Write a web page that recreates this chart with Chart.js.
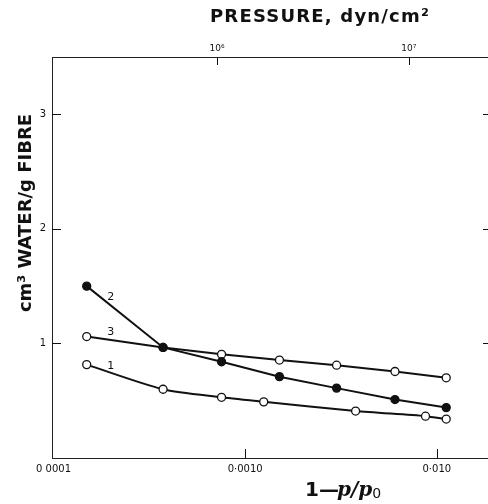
<!DOCTYPE html>
<html>
<head>
<meta charset="utf-8">
<script src="https://cdn.jsdelivr.net/npm/chart.js@4.4.1/dist/chart.umd.min.js"></script>
<style>
html,body{margin:0;padding:0;background:#fff;}
#wrap{width:488px;height:504px;}
</style>
</head>
<body>
<div id="wrap"><canvas id="c" width="488" height="504"></canvas></div>
<script>
// ---- data ----
const series1X = [0.000149, 0.000373, 0.000753, 0.00125, 0.00377, 0.00873, 0.0112];
const series1Y = [0.815, 0.60, 0.53, 0.49, 0.41, 0.365, 0.34];
const series2X = [0.000149, 0.000373, 0.000753, 0.00151, 0.0030, 0.00605, 0.0112];
const series2Y = [1.50, 0.965, 0.84, 0.71, 0.61, 0.51, 0.44];
const series3X = [0.000149, 0.000373, 0.000753, 0.00151, 0.0030, 0.00605, 0.0112];
const series3Y = [1.06, 0.965, 0.905, 0.855, 0.81, 0.755, 0.70];
const curveNames = ['1', '2', '3'];
const curveLabelX = [0.000199, 0.000199, 0.000199];
const curveLabelY = [0.80, 1.405, 1.10];

const bottomTicks = [0.0001, 0.001, 0.01];
const bottomTickLabels = ['0 0001', '0·0010', '0·010'];
const topTicks = [1e6, 1e7];
const topTickLabels = ['10\u2076', '10\u2077'];
const yTicks = [1, 2, 3];
const yTickLabels = ['1', '2', '3'];
const pressureFactor = 1.4e9; // dyn/cm² per unit of (1 - p/p0)
const xMin = 0.0000982, xMax = 0.0185;

const toPts = (xs, ys) => xs.map((x, i) => ({x: x, y: ys[i]}));

const ink = '#111';
const tickFont = {family: 'DejaVu Sans', size: 10};

const decor = {
  id: 'decor',
  afterDraw(chart) {
    const {ctx, chartArea: a, scales} = chart;
    ctx.save();
    ctx.strokeStyle = ink;
    ctx.lineWidth = 1;
    ctx.beginPath();
    bottomTicks.slice(1).forEach(v => {
      const px = Math.round(scales.x.getPixelForValue(v)) + 0.5;
      ctx.moveTo(px, a.bottom); ctx.lineTo(px, a.bottom - 9);
    });
    topTicks.forEach(v => {
      const px = Math.round(scales.x2.getPixelForValue(v)) + 0.5;
      ctx.moveTo(px, a.top); ctx.lineTo(px, a.top + 8);
    });
    yTicks.forEach(v => {
      const py = Math.round(scales.y.getPixelForValue(v)) + 0.5;
      ctx.moveTo(a.left, py); ctx.lineTo(a.left + 9, py);
      ctx.moveTo(a.right - 5, py); ctx.lineTo(a.right, py);
    });
    ctx.stroke();

    // curve numbers
    ctx.fillStyle = ink;
    ctx.font = '11px "DejaVu Sans"';
    ctx.textAlign = 'center';
    ctx.textBaseline = 'middle';
    curveNames.forEach((n, i) => {
      ctx.fillText(n, scales.x.getPixelForValue(curveLabelX[i]), scales.y.getPixelForValue(curveLabelY[i]));
    });

    // axis titles
    ctx.font = 'bold 18px "DejaVu Sans"';
    ctx.textBaseline = 'alphabetic';
    ctx.letterSpacing = '1.2px';
    ctx.fillText('PRESSURE, dyn/cm\u00b2', 320, 22);
    ctx.letterSpacing = '0px';

    ctx.save();
    ctx.translate(35, 213);
    ctx.rotate(-Math.PI / 2);
    ctx.fillText('cm\u00b3 WATER/g FIBRE', 0, -4);
    ctx.restore();

    ctx.font = 'bold 20px "DejaVu Sans"';
    ctx.fillText('1\u2014', 322, 496);
    ctx.font = 'italic bold 20px "DejaVu Serif"';
    ctx.textAlign = 'left';
    ctx.fillText('p/p', 337, 496);
    const w = ctx.measureText('p/p').width;
    ctx.font = '14px "DejaVu Sans"';
    ctx.fillText('0', 337 + w, 498);
    ctx.restore();
  }
};

const lineDs = (label, pts, filled, order, tension) => ({
  label, data: pts, showLine: true, order,
  borderColor: ink, borderWidth: 2, tension: tension,
  pointRadius: 4, pointBorderWidth: 1.3,
  pointBackgroundColor: filled ? ink : '#fff', pointBorderColor: ink
});

const noSidePad = s => { s.paddingLeft = 0; s.paddingRight = 0; };

new Chart(document.getElementById('c'), {
  type: 'scatter',
  data: {
    datasets: [
      lineDs('1', toPts(series1X, series1Y), false, 2, 0.25),
      lineDs('2', toPts(series2X, series2Y), true, 0, 0),
      lineDs('3', toPts(series3X, series3Y), false, 1, 0)
    ]
  },
  options: {
    responsive: false,
    animation: false,
    layout: {padding: 0, autoPadding: false},
    plugins: {legend: {display: false}, tooltip: {enabled: false}},
    scales: {
      x: {
        type: 'logarithmic', position: 'bottom', min: xMin, max: xMax,
        grid: {display: false, drawTicks: false},
        border: {display: true, color: '#222', width: 1},
        afterBuildTicks: s => { s.ticks = bottomTicks.map(v => ({value: v})); },
        ticks: {
          color: ink, font: tickFont, padding: 5, maxRotation: 0, autoSkip: false,
          callback: (v, i) => bottomTickLabels[i]
        },
        afterFit: s => { s.height = 46; noSidePad(s); }
      },
      x2: {
        type: 'logarithmic', position: 'top',
        min: xMin * pressureFactor, max: xMax * pressureFactor,
        grid: {display: false, drawTicks: false},
        border: {display: true, color: '#222', width: 1},
        afterBuildTicks: s => { s.ticks = topTicks.map(v => ({value: v})); },
        ticks: {
          color: ink, font: {family: 'DejaVu Sans', size: 9}, padding: 3, maxRotation: 0, autoSkip: false,
          callback: (v, i) => topTickLabels[i]
        },
        afterFit: s => { s.height = 57; noSidePad(s); }
      },
      y: {
        type: 'linear', position: 'left', min: 0, max: 3.5,
        grid: {display: false, drawTicks: false},
        border: {display: true, color: '#222', width: 1},
        afterBuildTicks: s => { s.ticks = yTicks.map(v => ({value: v})); },
        ticks: {
          color: ink, font: tickFont, padding: 6,
          callback: (v, i) => yTickLabels[i]
        },
        afterFit: s => { s.width = 52; s.paddingTop = 0; s.paddingBottom = 0; }
      }
    }
  },
  plugins: [decor]
});
</script>
</body>
</html>
